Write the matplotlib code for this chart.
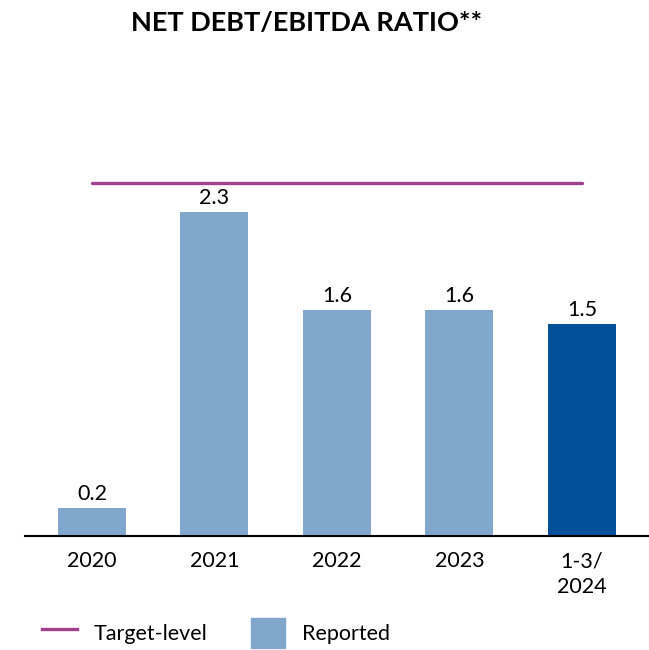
import matplotlib.pyplot as plt
from matplotlib.lines import Line2D
from matplotlib.patches import Patch

plt.rcParams['font.family'] = ['Lato', 'DejaVu Sans']

periods = ["2020", "2021", "2022", "2023", "1-3/\n2024"]
ratios = [0.2, 2.3, 1.6, 1.6, 1.5]
target = 2.5
bar_colors = ["#81a8cc", "#81a8cc", "#81a8cc", "#81a8cc", "#00509b"]

fig = plt.figure(figsize=(6.49, 6.5), dpi=100)
ax = fig.add_axes([0.0385, 0.1754, 0.9615, 0.6508])

x = range(len(periods))
bars = ax.bar(x, ratios, width=0.555, color=bar_colors)
ax.plot([0, len(periods) - 1], [target, target], color="#a0418f", lw=2.4,
        solid_capstyle="round")

for b, v in zip(bars, ratios):
    ax.annotate(f"{v:.1f}", (b.get_x() + b.get_width() / 2, v),
                xytext=(0, 3), textcoords="offset points",
                ha="center", va="bottom", fontsize=15.5)

ax.set_xlim(-0.547, 4.547)
ax.set_ylim(0, 3.0)
ax.set_xticks(list(x))
ax.set_xticklabels(periods, fontsize=15.5, linespacing=1.35)
ax.tick_params(axis="x", length=0, pad=11)
ax.set_yticks([])
for s in ["top", "right", "left"]:
    ax.spines[s].set_visible(False)
ax.spines["bottom"].set_linewidth(1.5)

fig.text(0.473, 0.965, "NET DEBT/EBITDA RATIO**", ha="center", va="center",
         fontsize=19.5, fontweight="bold")

handles = [Line2D([0], [0], color="#a0418f", lw=2.4),
           Patch(color="#81a8cc")]
fig.legend(handles, ["Target-level", "Reported"], loc="lower left",
           bbox_to_anchor=(0.035, -0.026), ncol=2, frameon=False,
           fontsize=15.5, handlelength=1.6, handleheight=1.7,
           columnspacing=2.0, handletextpad=0.8)

fig.savefig("out.png", dpi=100)
